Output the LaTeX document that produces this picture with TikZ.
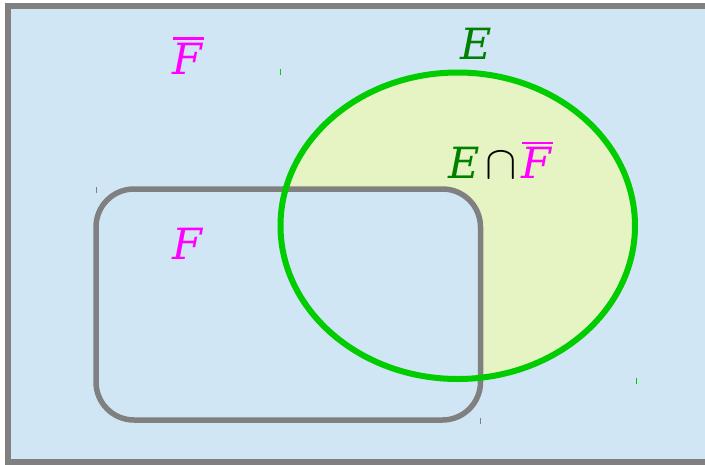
\documentclass[tikz,border=0pt]{standalone}
\usepackage{fontspec}
\setmainfont{DejaVu Serif}
\definecolor{bgblue}{HTML}{D0E6F4}
\definecolor{ylw}{HTML}{E6F4C4}
\definecolor{egreen}{HTML}{00CC00}
\definecolor{dgreen}{HTML}{008000}
\definecolor{frame}{HTML}{808080}
\definecolor{mag}{HTML}{FF00FF}
\newcommand{\Fbar}{\textcolor{mag}{\rlap{\kern0.02em\raisebox{0.8em}{\rule{0.72em}{0.06em}}}\itshape F}}
\newcommand{\bigcapsym}{\scalebox{4.7}{\fontsize{10}{10}\selectfont$\cap$}}
\tikzset{
  lbl/.style={inner sep=0pt, anchor=base, font=\fontsize{43}{43}\selectfont},
  tick/.style={line width=1pt},
}
\begin{document}
\begin{tikzpicture}[x=1pt,y=-1pt]
\useasboundingbox (0,0) rectangle (705,464);
\clip (0,0) rectangle (705,464);
% outer frame
\draw[frame, fill=bgblue, line width=6pt] (8,6) rectangle (712,462);
% ellipse fill
\fill[ylw] (457.75,225.75) ellipse [x radius=177.25, y radius=153.25];
% rounded rectangle
\fill[bgblue, rounded corners=38pt] (96,189) rectangle (480.5,420);
\draw[frame, line width=5.5pt, rounded corners=38pt] (96,189) rectangle (480.5,420);
% ellipse stroke
\draw[egreen, line width=6pt] (457.75,225.75) ellipse [x radius=177.25, y radius=153.25];
% ticks
\draw[egreen, tick] (280.5,69) -- (280.5,75);
\draw[egreen, tick] (636,378) -- (636,384);
\draw[frame, tick] (96,187) -- (96,193);
\draw[frame, tick] (480.5,418) -- (480.5,424);
% labels
\node[lbl] (fbartop) at (187,74) {\Fbar};
\node[lbl, text=dgreen] (etop) at (476,59) {\itshape E};
\node[lbl] (inter) at (500,178.5) {\textcolor{dgreen}{\itshape E}\kern5pt\bigcapsym\kern5pt\Fbar};
\node[lbl, text=mag] (f) at (187,259) {\itshape F};
\end{tikzpicture}
\end{document}
